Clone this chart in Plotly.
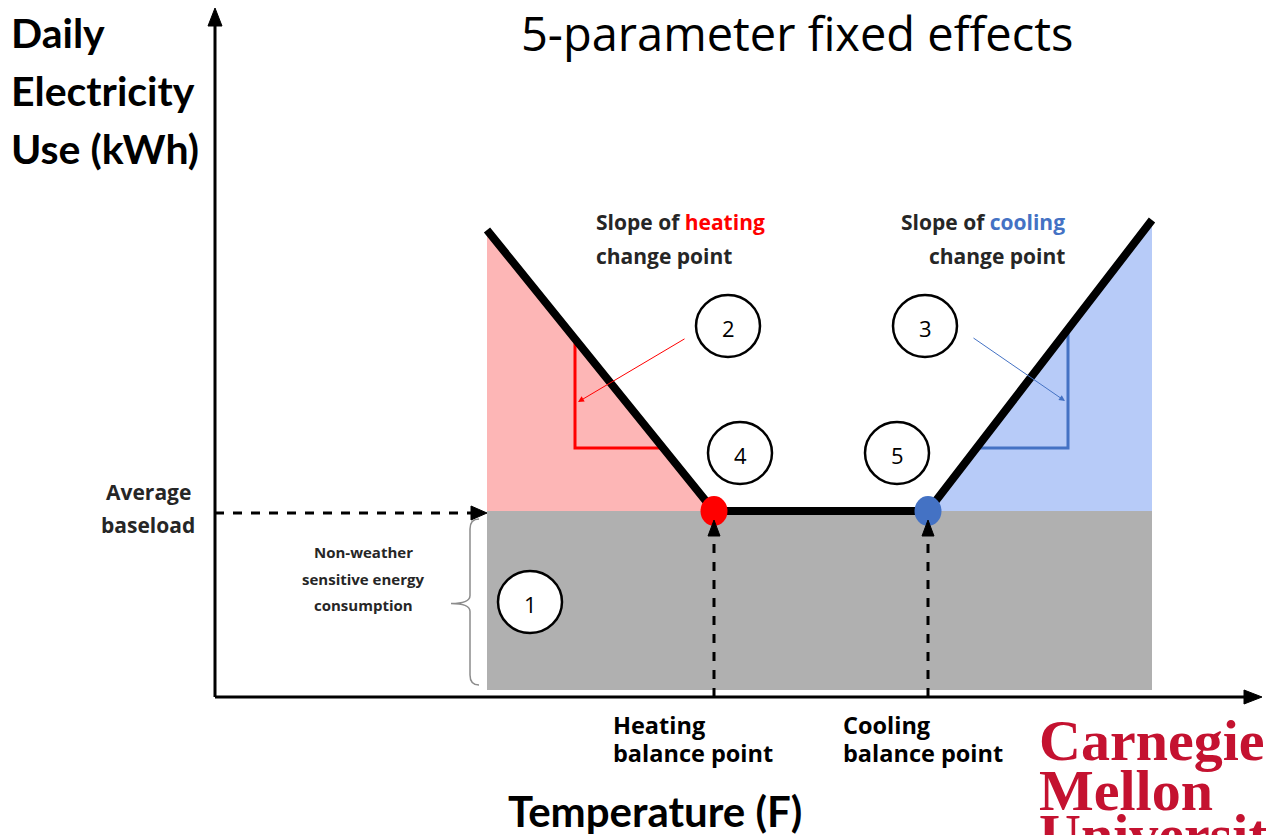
import plotly.graph_objects as go

# ---- data (diagram units: x = temperature position, y = daily kWh) ----
temperature = [272, 499, 713, 937]      # start of heating, heating BP, cooling BP, end
usage_heating_top = 467
usage_cooling_top = 477
baseload = 186
base_floor = 7
kwh_line = [usage_heating_top, baseload, baseload, usage_cooling_top]
slope_tri_x = [360, 853]                 # vertical legs of slope triangles
slope_tri_y = 249                        # horizontal legs
circle_labels = ["1", "2", "3", "4", "5"]
circle_x = [315, 513, 710, 525, 682]
circle_y = [95, 371, 371, 244, 244]

X_RANGE = [-215, 1051]
Y_RANGE = [-138, 697]

RED = "#FF0000"
BLUE = "#4472C4"
PINK = "#FDB6B6"
LBLUE = "#B7CBF8"
GREY = "#B0B0B0"

fig = go.Figure()

# shaded regions
fig.add_trace(go.Scatter(x=[temperature[0], temperature[3], temperature[3], temperature[0]],
                         y=[base_floor, base_floor, baseload, baseload],
                         fill="toself", fillcolor=GREY, line=dict(width=0), mode="lines",
                         hoverinfo="skip", showlegend=False))
fig.add_trace(go.Scatter(x=[temperature[0], temperature[0], temperature[1]],
                         y=[baseload, usage_heating_top, baseload],
                         fill="toself", fillcolor=PINK, line=dict(width=0), mode="lines",
                         hoverinfo="skip", showlegend=False))
fig.add_trace(go.Scatter(x=[temperature[2], temperature[3], temperature[3]],
                         y=[baseload, usage_cooling_top, baseload],
                         fill="toself", fillcolor=LBLUE, line=dict(width=0), mode="lines",
                         hoverinfo="skip", showlegend=False))

# slope triangles
def line_y(x, x0, y0, x1, y1):
    return y0 + (y1 - y0) * (x - x0) / (x1 - x0)

def line_x(y, x0, y0, x1, y1):
    return x0 + (x1 - x0) * (y - y0) / (y1 - y0)

hx_top = line_y(slope_tri_x[0], temperature[0], kwh_line[0], temperature[1], kwh_line[1])
hx_end = line_x(slope_tri_y, temperature[0], kwh_line[0], temperature[1], kwh_line[1])
fig.add_trace(go.Scatter(x=[slope_tri_x[0], slope_tri_x[0], hx_end], y=[hx_top, slope_tri_y, slope_tri_y],
                         mode="lines", line=dict(color=RED, width=3), hoverinfo="skip", showlegend=False))
cx_top = line_y(slope_tri_x[1], temperature[2], kwh_line[2], temperature[3], kwh_line[3])
cx_end = line_x(slope_tri_y, temperature[2], kwh_line[2], temperature[3], kwh_line[3])
fig.add_trace(go.Scatter(x=[cx_end, slope_tri_x[1], slope_tri_x[1]], y=[slope_tri_y, slope_tri_y, cx_top],
                         mode="lines", line=dict(color=BLUE, width=3), hoverinfo="skip", showlegend=False))

# main change-point line
fig.add_trace(go.Scatter(x=temperature, y=kwh_line, mode="lines",
                         line=dict(color="black", width=8), hoverinfo="skip", showlegend=False))

shapes = []
# balance point dots
for xc, col in [(temperature[1], RED), (temperature[2], BLUE)]:
    shapes.append(dict(type="circle", xref="x", yref="y", x0=xc - 13.5, x1=xc + 13.5,
                       y0=baseload - 15, y1=baseload + 15, fillcolor=col, line=dict(width=0)))

# axes
shapes.append(dict(type="line", xref="x", yref="y", x0=0, y0=0, x1=0, y1=676, line=dict(color="black", width=3)))
shapes.append(dict(type="line", xref="x", yref="y", x0=0, y0=0, x1=1030, y1=0, line=dict(color="black", width=3)))

def head(tx, ty, dx, dy, L=14, W=7):
    bx, by = tx - dx * L, ty - dy * L
    px, py = -dy * W, dx * W
    return dict(type="path", xref="x", yref="y",
                path=f"M {tx},{ty} L {bx+px},{by+py} L {bx-px},{by-py} Z",
                fillcolor="black", line=dict(color="black", width=1))

shapes.append(head(0, 689, 0, 1, L=18, W=7))
shapes.append(head(1047, 0, 1, 0, L=18, W=7))

# dashed guide arrows
shapes.append(dict(type="line", xref="x", yref="y", x0=0, y0=baseload - 2, x1=temperature[0] - 14, y1=baseload - 2,
                   line=dict(color="black", width=3, dash="dash")))
shapes.append(head(temperature[0], baseload - 2, 1, 0, L=16, W=7))
for xc in (temperature[1], temperature[2]):
    shapes.append(dict(type="line", xref="x", yref="y", x0=xc, y0=0, x1=xc, y1=162,
                       line=dict(color="black", width=3, dash="dash")))
    shapes.append(head(xc, 177, 0, 1, L=16, W=6))

# curly brace
bx = temperature[0] - 8
bm = bx - 9
tip = bx - 28
mid = (baseload + base_floor) / 2 - 3
top = baseload - 8
bot = base_floor + 5
brace = (f"M {bx},{top} Q {bm},{top} {bm},{top-10} L {bm},{mid+8} "
         f"Q {bm},{mid} {tip},{mid} Q {bm},{mid} {bm},{mid-8} "
         f"L {bm},{bot+10} Q {bm},{bot} {bx},{bot}")
shapes.append(dict(type="path", xref="x", yref="y", path=brace, line=dict(color="#8C8C8C", width=1.5)))

# numbered circles
for xc, yc in zip(circle_x, circle_y):
    shapes.append(dict(type="circle", xref="x", yref="y", x0=xc - 32, x1=xc + 32, y0=yc - 31, y1=yc + 31,
                       fillcolor="white", line=dict(color="black", width=2.5)))

fig.update_layout(shapes=shapes)

ann = []
for lab, xc, yc in zip(circle_labels, circle_x, circle_y):
    ann.append(dict(x=xc, y=yc - 2, text=lab, showarrow=False, font=dict(family="Open Sans", size=22, color="black")))

# thin pointer arrows
ann.append(dict(x=slope_tri_x[0] + 3, y=295, ax=471, ay=359, axref="x", ayref="y", xref="x", yref="y",
                text="", showarrow=True, arrowhead=2, arrowsize=1.2, arrowwidth=1, arrowcolor=RED))
ann.append(dict(x=slope_tri_x[1] - 3, y=296, ax=757, ay=360, axref="x", ayref="y", xref="x", yref="y",
                text="", showarrow=True, arrowhead=2, arrowsize=1.2, arrowwidth=1, arrowcolor=BLUE))

def txt(x, y, s, size, family="Open Sans", color="black", xanchor="left", bold=False):
    if bold:
        s = f"<b>{s}</b>"
    ann.append(dict(x=x, y=y, text=s, showarrow=False, xanchor=xanchor, yanchor="middle",
                    font=dict(family=family, size=size, color=color)))

# title
txt(582, 664, "5-parameter fixed effects", 47, xanchor="center")
# y axis label
for i, s in enumerate(["Daily", "Electricity", "Use (kWh)"]):
    txt(-206, 665 - 58 * i, s, 41, family="Lato", bold=True)
# x axis label
txt(440, -114, "Temperature (F)", 42, family="Lato", xanchor="center", bold=True)

DK = "#262626"
txt(379, 475, "Slope of <span style='color:#FF0000'>heating</span>", 21, color=DK, bold=True)
txt(379, 441, "change point", 21, color=DK, bold=True)
txt(852, 475, "Slope of <span style='color:#4472C4'>cooling</span>", 21, color=DK, xanchor="right", bold=True)
txt(852, 441, "change point", 21, color=DK, xanchor="right", bold=True)

txt(-67, 205, "Average", 21, color=DK, xanchor="center", bold=True)
txt(-67, 172, "baseload", 21, color=DK, xanchor="center", bold=True)

for i, s in enumerate(["Non-weather", "sensitive energy", "consumption"]):
    txt(148, 145 - 26.5 * i, s, 15, color=DK, xanchor="center", bold=True)

txt(396, -28, "Heating", 23.5, bold=True)
txt(396, -56, "balance point", 23.5, bold=True)
txt(626, -28, "Cooling", 23.5, bold=True)
txt(626, -56, "balance point", 23.5, bold=True)

# logo text
CMU = "#C41230"
txt(822, -43, "Carnegie", 58, family="Liberation Serif", color=CMU, bold=True)
txt(822, -93, "Mellon", 58, family="Liberation Serif", color=CMU, bold=True)
ann.append(dict(x=822, y=(835 - 800) / 835, xref="x", yref="paper", text="<b>University</b>",
                showarrow=False, xanchor="left", yanchor="top",
                font=dict(family="Liberation Serif", size=58, color=CMU)))

fig.update_layout(
    annotations=ann,
    width=1266, height=835,
    margin=dict(l=0, r=0, t=0, b=0),
    paper_bgcolor="white", plot_bgcolor="white",
    xaxis=dict(range=X_RANGE, visible=False, fixedrange=True),
    yaxis=dict(range=Y_RANGE, visible=False, fixedrange=True),
    showlegend=False,
)

fig.write_html("out.html", config={"displayModeBar": False})
